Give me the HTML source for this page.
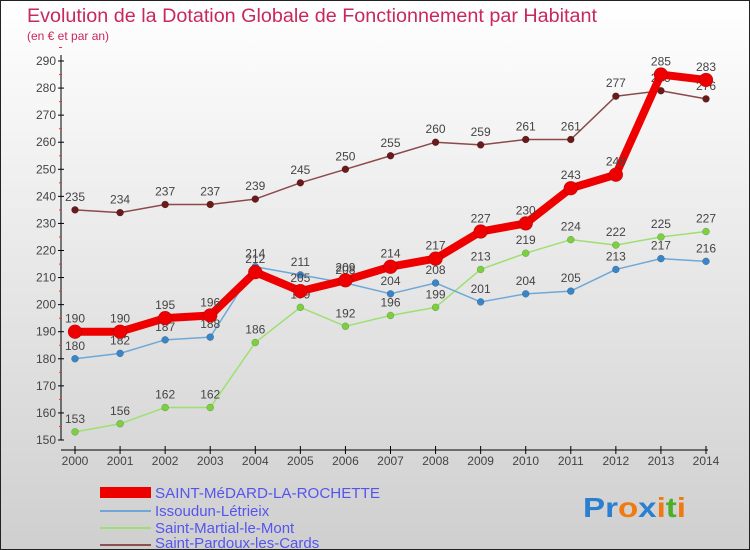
<!DOCTYPE html>
<html><head><meta charset="utf-8"><style>
body{margin:0;width:750px;height:550px;overflow:hidden}
svg{display:block;font-family:"Liberation Sans",sans-serif}
</style></head><body>
<svg width="750" height="550">
<defs><linearGradient id="bg" x1="0" y1="0" x2="0" y2="1"><stop offset="0" stop-color="#ffffff"/><stop offset="1" stop-color="#cfcfcf"/></linearGradient></defs>
<rect x="0.5" y="0.5" width="749" height="549" fill="url(#bg)" stroke="#222"/>
<text x="27" y="22" font-size="19" fill="#c8285a" textLength="570" lengthAdjust="spacingAndGlyphs">Evolution de la Dotation Globale de Fonctionnement par Habitant</text>
<text x="27" y="40" font-size="12" fill="#c8285a">(en € et par an)</text>
<g id="axes"></g>
<g id="series"></g>
<g id="legend">
<rect x="100" y="487" width="51" height="11" fill="#e00"/>
<text x="155" y="498" font-size="15" fill="#5555ee" textLength="225" lengthAdjust="spacingAndGlyphs">SAINT-MéDARD-LA-ROCHETTE</text>
<line x1="100" y1="511" x2="151" y2="511" stroke="#6fa8d8" stroke-width="2"/>
<text x="155" y="516" font-size="15" fill="#5555ee">Issoudun-Létrieix</text>
<line x1="100" y1="528" x2="151" y2="528" stroke="#9de070" stroke-width="2"/>
<text x="155" y="533" font-size="15" fill="#5555ee">Saint-Martial-le-Mont</text>
<line x1="100" y1="545" x2="151" y2="545" stroke="#8b5050" stroke-width="2"/>
<text x="155" y="548" font-size="15" fill="#5555ee">Saint-Pardoux-les-Cards</text>
</g>
<g font-size="28" font-weight="bold">
<text x="583" y="517" textLength="103" lengthAdjust="spacingAndGlyphs"><tspan fill="#2a7fd0">Pr</tspan><tspan fill="#f07a10">o</tspan><tspan fill="#2a7fd0">x</tspan><tspan fill="#f07a10">i</tspan><tspan fill="#4caf2a">t</tspan><tspan fill="#f07a10">i</tspan></text>
</g>
</svg>
<script>
const years=[2000,2001,2002,2003,2004,2005,2006,2007,2008,2009,2010,2011,2012,2013,2014];
const yTicks=[150,160,170,180,190,200,210,220,230,240,250,260,270,280,290];
const medard=[190,190,195,196,212,205,209,214,217,227,230,243,248,285,283];
const issoudun=[180,182,187,188,214,211,208,204,208,201,204,205,213,217,216];
const martial=[153,156,162,162,186,199,192,196,199,213,219,224,222,225,227];
const pardoux=[235,234,237,237,239,245,250,255,260,259,261,261,277,279,276];
const NS='http://www.w3.org/2000/svg';
const xs=i=>75+i*(706-75)/(years.length-1);
const ys=v=>440-(v-150)*(440-61)/140;
function mk(t,a,p){const e=document.createElementNS(NS,t);for(const k in a)e.setAttribute(k,a[k]);p.appendChild(e);return e;}
const ax=document.getElementById('axes');
const yl=mk('line',{x1:61,y1:55,x2:61,y2:440,stroke:'#000'},ax);


const xl=mk('line',{x1:61,y1:450,x2:708,y2:450,stroke:'#000'},ax);


yTicks.forEach(v=>{const y=ys(v);mk('line',{x1:58,y1:y,x2:64,y2:y,stroke:'#000'},ax);
mk('line',{x1:59,y1:y-13.5,x2:62,y2:y-13.5,stroke:'#e33'},ax);
const t=mk('text',{x:56,y:y+4,'font-size':12,fill:'#444','text-anchor':'end'},ax);t.textContent=v;

});
years.forEach((yr,i)=>{const x=xs(i);mk('line',{x1:x,y1:446,x2:x,y2:454,stroke:'#000'},ax);
const t=mk('text',{x:x,y:465,'font-size':12,fill:'#444','text-anchor':'middle'},ax);t.textContent=yr;

});
const sg=document.getElementById('series');
function draw(data,color,w,r,name,dot){
const g=mk('g',{},sg);


const pl=mk('polyline',{points:data.map((v,i)=>xs(i)+','+ys(v)).join(' '),fill:'none',stroke:color,'stroke-width':w,'stroke-linejoin':'round'},g);


data.forEach((v,i)=>{const c=mk('circle',{cx:xs(i),cy:ys(v),r:r,fill:dot,stroke:'rgba(0,0,0,0.3)','stroke-width':0.5},g);


const t=mk('text',{x:xs(i),y:ys(v)-9,'font-size':12,fill:'#444','text-anchor':'middle'},g);t.textContent=v;

});}
draw(pardoux,'#8b4a4a',1.5,3.5,'saint-pardoux','#6a1a1a');
draw(martial,'#9de070',1.5,3.5,'saint-martial','#7cd040');
draw(issoudun,'#6fa8d8',1.5,3.5,'issoudun','#3a85c8');
draw(medard,'#ee0000',8,7,'saint-medard','#ee0000');
</script>
</body></html>
